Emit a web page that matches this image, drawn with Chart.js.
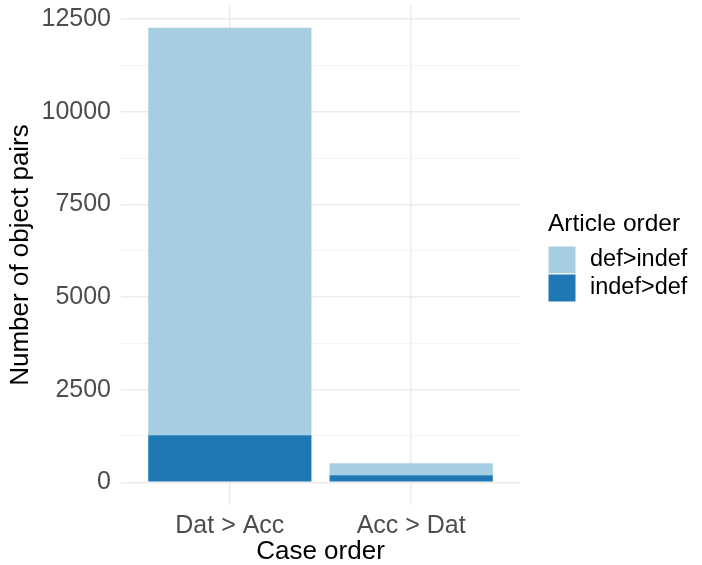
<!DOCTYPE html>
<html>
<head>
<meta charset="utf-8">
<script src="https://cdn.jsdelivr.net/npm/chart.js@4.4.1/dist/chart.umd.min.js"></script>
<style>
  body { margin: 0; background: #fff; }
  .wrap { width: 702px; height: 565px; position: relative; }
</style>
</head>
<body>
<div class="wrap"><canvas id="myChart"></canvas></div>
<script>
'use strict';

// data
const categories = ['Dat > Acc', 'Acc > Dat'];
const seriesNames = ['def>indef', 'indef>def'];
const defIndef = [11000, 325];
const indefDef = [1270, 189];
const yTickValues = [0, 2500, 5000, 7500, 10000, 12500];

const lightBlue = '#A6CEE3',
      darkBlue = '#1F78B4',
      FONT = '"Liberation Sans", Arial, sans-serif';

// ggplot style 5% expansion of the stacked range
const totals = categories.map((c, i) => defIndef[i] + indefDef[i]);
const yMax = Math.max(...totals);
const yLo = -0.05 * yMax, yHi = yMax * 1.05;

// minor gridlines halfway between the major ones
const allYTicks = [];
yTickValues.forEach((v, i) => {
    allYTicks.push(v);
    if (i < yTickValues.length - 1) allYTicks.push((v + yTickValues[i + 1]) / 2);
});

const isMajor = (v) => yTickValues.indexOf(v) !== -1;

const legendPlugin = {
    id: 'ggLegend',
    afterDraw(chart) {
        const c = chart.ctx;
        c.save();
        c.fillStyle = '#000';
        c.textAlign = 'left';
        c.textBaseline = 'alphabetic';
        c.font = '24.5px ' + FONT;
        c.fillText('Article order', 548, 231);
        const colors = [lightBlue, darkBlue];
        c.font = '23.5px ' + FONT;
        c.textBaseline = 'middle';
        seriesNames.forEach((name, i) => {
            const y = 246 + i * 28;
            c.fillStyle = colors[i];
            c.fillRect(548, y, 28, 28);
            c.strokeStyle = '#fff';
            c.lineWidth = 1;
            c.strokeRect(548, y, 28, 28);
            c.fillStyle = '#000';
            c.fillText(name, 590, y + 14);
        });
        c.restore();
    }
};

const ctx = document.querySelector('#myChart').getContext('2d');

var myChart = new Chart(ctx, {
    type: 'bar',
    data: {
        datasets: [{
            label: seriesNames[1],
            data: categories.map((c, i) => ({ x: i + 1, y: indefDef[i] })),
            backgroundColor: darkBlue,
            borderWidth: 0
        }, {
            label: seriesNames[0],
            data: categories.map((c, i) => ({ x: i + 1, y: defIndef[i] })),
            backgroundColor: lightBlue,
            borderWidth: 0
        }]
    },
    options: {
        animation: false,
        responsive: true,
        maintainAspectRatio: false,
        barPercentage: 0.9,
        categoryPercentage: 1,
        layout: { padding: { left: 0, right: 182, top: 5, bottom: 0 } },
        plugins: {
            legend: { display: false },
            tooltip: { enabled: false }
        },
        scales: {
            x: {
                type: 'linear',
                stacked: true,
                offset: false,
                min: 0.4,
                max: categories.length + 0.6,
                afterBuildTicks: (scale) => {
                    scale.ticks = categories.map((c, i) => ({ value: i + 1 }));
                },
                afterFit: (scale) => {
                    scale.height = 60;
                    scale.paddingLeft = 0;
                    scale.paddingRight = 0;
                },
                border: { display: false },
                grid: { color: '#EBEBEB', lineWidth: 1.5, drawTicks: false, offset: false },
                ticks: {
                    color: '#4D4D4D',
                    font: { family: FONT, size: 25 },
                    padding: 6,
                    maxRotation: 0,
                    autoSkip: false,
                    callback: (v) => categories[Math.round(v) - 1] || ''
                },
                title: {
                    display: true,
                    text: 'Case order',
                    color: '#000',
                    font: { family: FONT, size: 26, lineHeight: 1.05 },
                    padding: { top: 0, bottom: 0 }
                }
            },
            y: {
                stacked: true,
                min: yLo,
                max: yHi,
                afterBuildTicks: (scale) => {
                    scale.ticks = allYTicks.map(v => ({ value: v }));
                },
                afterFit: (scale) => {
                    scale.width = 121;
                    scale.paddingTop = 0;
                    scale.paddingBottom = 0;
                },
                border: { display: false },
                grid: {
                    drawTicks: false,
                    color: (c) => isMajor(c.tick.value) ? '#EBEBEB' : '#F3F3F3',
                    lineWidth: (c) => isMajor(c.tick.value) ? 1.5 : 1
                },
                ticks: {
                    color: '#4D4D4D',
                    font: { family: FONT, size: 25 },
                    padding: 10,
                    autoSkip: false,
                    callback: (v) => isMajor(v) ? String(v) : ''
                },
                title: {
                    display: true,
                    text: 'Number of object pairs',
                    color: '#000',
                    font: { family: FONT, size: 26 },
                    padding: { top: 5, bottom: 0 }
                }
            }
        }
    },
    plugins: [legendPlugin]
});
</script>
</body>
</html>
